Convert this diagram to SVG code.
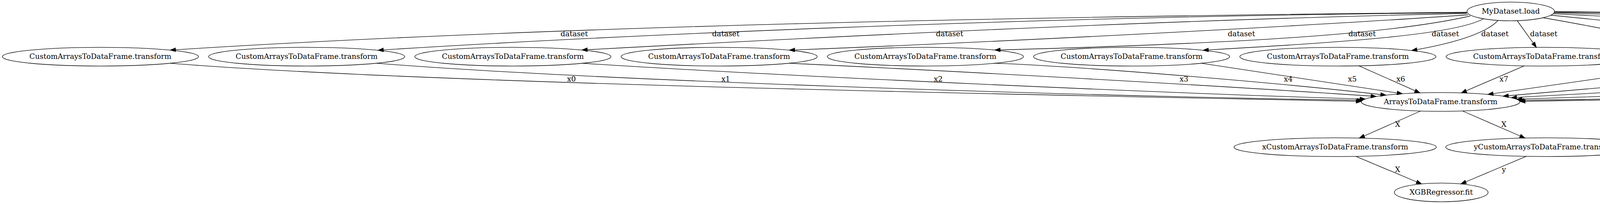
<svg xmlns="http://www.w3.org/2000/svg" width="6910" height="523" viewBox="0 0 6910 523">
<style>
.n ellipse{fill:none;stroke:#000;stroke-width:1.33}
text{font-family:"DejaVu Serif","Liberation Serif",serif;font-size:18.67px;text-anchor:middle;fill:#000}
.e path{fill:none;stroke:#000;stroke-width:1.33;marker-end:url(#arr)}
</style>
<defs>
<marker id="arr" markerUnits="userSpaceOnUse" markerWidth="16" markerHeight="12" viewBox="0 0 16 12" refX="14" refY="6" orient="auto" overflow="visible">
<path d="M0.67,1.33 L14,6 L0.67,10.67 Z" fill="#000" stroke="#000" stroke-width="1.33"/>
</marker>
</defs>
<rect width="6910" height="523" fill="#fff"/>
<g id="edges" class="e">
<path d="M3756,31.5 C2656,42.5 1436,65 436,128.4"/>
<path d="M3755,32.5 C2600,42 1500,95 968,128.8"/>
<path d="M3755,34.5 C3000,50 2100,95 1490,128.2"/>
<path d="M3758,38 C3300,70 2500,110 2021,128.5"/>
<path d="M3764,41 C3550,90 3150,112 2547,128.3"/>
<path d="M3798,48 C3720,92 3400,110 3080,128.8"/>
<path d="M3835,52.5 C3800,90 3700,115 3614,129.4"/>
<path d="M3884,53 L3933,121.4"/>
<path d="M3950,45.5 C4050,62 4200,92 4362,124.2"/>
<path d="M3970,39 C4200,62 4600,100 4834,128"/>
<path d="M3976,35.3 C4400,55 5000,100 5353,128.9"/>
<path d="M3978,33.2 C4500,45 5400,90 5882,128.8"/>
<path d="M3979,31.5 C4700,40 5700,76 6404,128.8"/>
<path d="M3979.4,29.5 C4600,36 5500,60 5957,77 C6050,80 6300,71 6439,71.7 C6620,72 6828,95 6828,140 C6828,158 6823,169 6811,174 C6780,183 6300,210 5910,223 C5500,232 4400,252 3891,260"/>
<path d="M436,162.2 C1100,215 2600,242 3485.2,260"/>
<path d="M964,162.2 C1500,205 2700,245 3488,257.2"/>
<path d="M1490,162.2 C2000,195 3000,240 3495,253.9"/>
<path d="M2020,162.2 C2400,180 3100,218 3523,247.3"/>
<path d="M2547,162.2 C2800,172 3300,215 3548,243.9"/>
<path d="M3075,162.2 C3250,188 3420,214 3590,240.3"/>
<path d="M3479,168.8 L3635,238.1"/>
<path d="M3902,168.8 L3741,238.2"/>
<path d="M4343,165.4 L3809,242"/>
<path d="M4828,162 C4500,190 4100,226 3848,246.5"/>
<path d="M5360,162 C5000,188 4300,228 3869,250.4"/>
<path d="M5890,162 C5400,192 4500,236 3883,254.2"/>
<path d="M6417,163.1 C5800,205 4800,245 3888,257.2"/>
<path d="M3637,284.5 L3480,354"/>
<path d="M3744,284.5 L3904,354"/>
<path d="M3471,400.8 L3639,471.5"/>
<path d="M3907,400.8 L3740,471.5"/>
<text x="1470" y="92.6">dataset</text>
<text x="1858" y="92.6">dataset</text>
<text x="2431" y="92.6">dataset</text>
<text x="3178" y="92.6">dataset</text>
<text x="3487" y="92.6">dataset</text>
<text x="3700" y="92.6">dataset</text>
<text x="3827" y="92.6">dataset</text>
<text x="3952" y="92.6">dataset</text>
<text x="4248" y="92.6">dataset</text>
<text x="4541" y="92.6">dataset</text>
<text x="4961" y="92.6">dataset</text>
<text x="5413" y="92.6">dataset</text>
<text x="5933" y="92.6">X</text>
<text x="6867" y="150.6">dataset</text>
<text x="1463" y="208.6">x0</text>
<text x="1858" y="208.6">x1</text>
<text x="2402" y="208.6">x2</text>
<text x="3031" y="208.6">x3</text>
<text x="3298" y="208.6">x4</text>
<text x="3462" y="208.6">x5</text>
<text x="3586" y="208.6">x6</text>
<text x="3850" y="208.6">x7</text>
<text x="4146" y="208.6">x8</text>
<text x="4439" y="208.6">x9</text>
<text x="4899" y="208.6">x10</text>
<text x="5415" y="208.6">x11</text>
<text x="5916" y="208.6">attr</text>
<text x="3578" y="324.6">X</text>
<text x="3850" y="324.6">X</text>
<text x="3578" y="440.6">X</text>
<text x="3850" y="440.6">y</text>
</g>
<g id="mydataset_load" class="n"><ellipse cx="3867.5" cy="29.3" rx="112" ry="24"/><text x="3867.5" y="34.6">MyDataset.load</text></g>
<g id="custom_0" class="n"><ellipse cx="257" cy="145.3" rx="251" ry="24"/><text x="257" y="150.6">CustomArraysToDataFrame.transform</text></g>
<g id="custom_1" class="n"><ellipse cx="785" cy="145.3" rx="251" ry="24"/><text x="785" y="150.6">CustomArraysToDataFrame.transform</text></g>
<g id="custom_2" class="n"><ellipse cx="1313" cy="145.3" rx="251" ry="24"/><text x="1313" y="150.6">CustomArraysToDataFrame.transform</text></g>
<g id="custom_3" class="n"><ellipse cx="1841" cy="145.3" rx="251" ry="24"/><text x="1841" y="150.6">CustomArraysToDataFrame.transform</text></g>
<g id="custom_4" class="n"><ellipse cx="2369" cy="145.3" rx="251" ry="24"/><text x="2369" y="150.6">CustomArraysToDataFrame.transform</text></g>
<g id="custom_5" class="n"><ellipse cx="2897" cy="145.3" rx="251" ry="24"/><text x="2897" y="150.6">CustomArraysToDataFrame.transform</text></g>
<g id="custom_6" class="n"><ellipse cx="3425" cy="145.3" rx="251" ry="24"/><text x="3425" y="150.6">CustomArraysToDataFrame.transform</text></g>
<g id="custom_7" class="n"><ellipse cx="3953" cy="145.3" rx="251" ry="24"/><text x="3953" y="150.6">CustomArraysToDataFrame.transform</text></g>
<g id="custom_8" class="n"><ellipse cx="4481" cy="145.3" rx="251" ry="24"/><text x="4481" y="150.6">CustomArraysToDataFrame.transform</text></g>
<g id="custom_9" class="n"><ellipse cx="5009" cy="145.3" rx="251" ry="24"/><text x="5009" y="150.6">CustomArraysToDataFrame.transform</text></g>
<g id="custom_10" class="n"><ellipse cx="5537" cy="145.3" rx="251" ry="24"/><text x="5537" y="150.6">CustomArraysToDataFrame.transform</text></g>
<g id="custom_11" class="n"><ellipse cx="6065" cy="145.3" rx="251" ry="24"/><text x="6065" y="150.6">CustomArraysToDataFrame.transform</text></g>
<g id="instantaneous_frequency" class="n"><ellipse cx="6572" cy="145.3" rx="231" ry="24"/><text x="6572" y="150.6">InstantaneousFrequency.transform</text></g>
<g id="arrays_to_dataframe" class="n"><ellipse cx="3688" cy="261.3" rx="203" ry="24"/><text x="3688" y="266.6">ArraysToDataFrame.transform</text></g>
<g id="x_custom" class="n"><ellipse cx="3418" cy="377.3" rx="259" ry="24"/><text x="3418" y="382.6">xCustomArraysToDataFrame.transform</text></g>
<g id="y_custom" class="n"><ellipse cx="3960" cy="377.3" rx="259" ry="24"/><text x="3960" y="382.6">yCustomArraysToDataFrame.transform</text></g>
<g id="xgb_fit" class="n"><ellipse cx="3689.5" cy="493.3" rx="120" ry="24"/><text x="3689.5" y="498.6">XGBRegressor.fit</text></g>
</svg>
